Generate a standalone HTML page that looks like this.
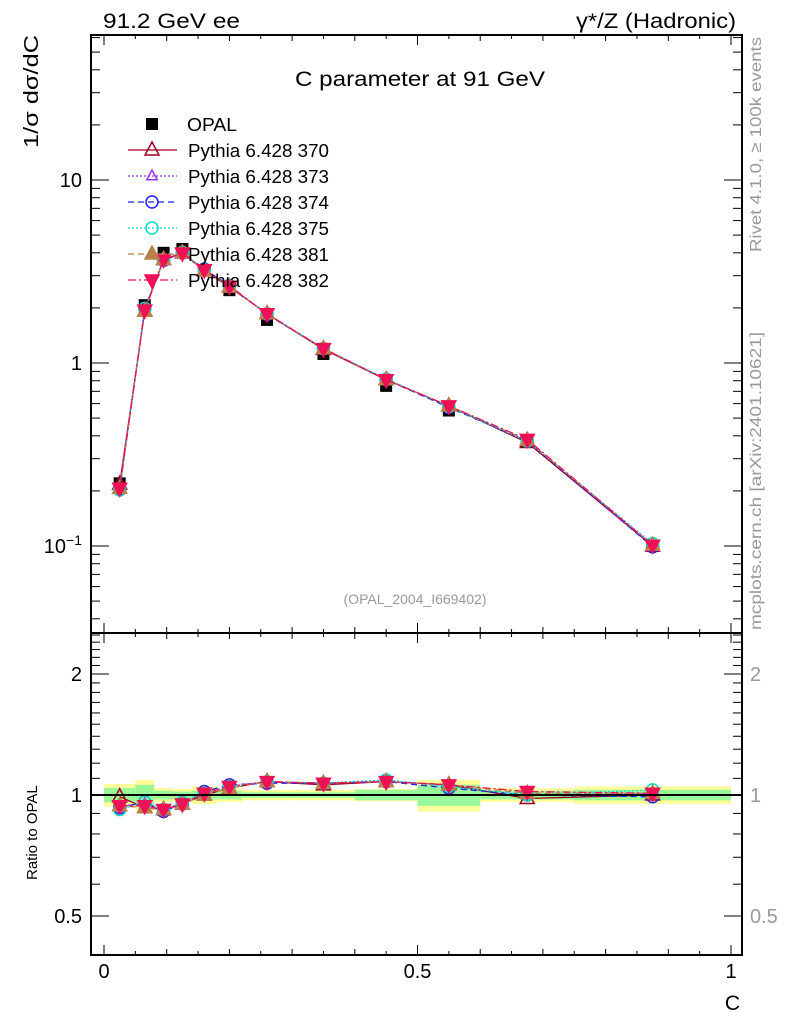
<!DOCTYPE html>
<html><head><meta charset="utf-8">
<style>
body{margin:0;background:#fff;}
svg{display:block;font-family:"Liberation Sans",sans-serif;}
</style></head>
<body>
<svg id="chart" width="786" height="1024" viewBox="0 0 786 1024" xmlns="http://www.w3.org/2000/svg">
<g id="bands"></g>
<g id="marks"></g>
<g id="axes"></g>
<text x="103" y="28" font-size="21" textLength="137" lengthAdjust="spacingAndGlyphs">91.2 GeV ee</text>
<text x="576" y="28" font-size="21" textLength="160" lengthAdjust="spacingAndGlyphs">γ*/Z (Hadronic)</text>
<text x="295" y="86" font-size="21" textLength="250" lengthAdjust="spacingAndGlyphs">C parameter at 91 GeV</text>
<text x="415" y="604" font-size="14" fill="#999" text-anchor="middle">(OPAL_2004_I669402)</text>
<text x="0" y="0" font-size="20" textLength="113" lengthAdjust="spacingAndGlyphs" transform="translate(38,148) rotate(-90)">1/σ   dσ/dC</text>
<text x="0" y="0" font-size="15" transform="translate(37,880) rotate(-90)">Ratio to OPAL</text>
<text x="740" y="1010" font-size="21" text-anchor="end">C</text>
<text x="0" y="0" font-size="16" fill="#999" textLength="215" lengthAdjust="spacingAndGlyphs" transform="translate(761,252) rotate(-90)">Rivet 4.1.0, ≥ 100k events</text>
<text x="0" y="0" font-size="16" fill="#999" textLength="298" lengthAdjust="spacingAndGlyphs" transform="translate(761,630) rotate(-90)">mcplots.cern.ch [arXiv:2401.10621]</text>
<g id="legend"></g>
</svg>
<script>
const edges=[0,0.05,0.08,0.11,0.14,0.18,0.22,0.30,0.40,0.50,0.60,0.75,1.0];
const centers=[0.025,0.065,0.095,0.125,0.16,0.2,0.26,0.35,0.45,0.55,0.675,0.875];
const opal=[0.22,2.07,4.0,4.2,3.2,2.5,1.72,1.12,0.75,0.55,0.375,0.1];
const bandTot=[0.065,0.09,0.04,0.035,0.05,0.04,0.03,0.03,0.035,0.09,0.04,0.05];
const bandStat=[0.04,0.06,0.025,0.02,0.025,0.025,0.015,0.015,0.03,0.06,0.025,0.03];
const r370=[0.99,0.93,0.92,0.95,1.0,1.04,1.08,1.06,1.08,1.06,0.98,1.0];
const r373=[0.94,0.95,0.91,0.95,1.01,1.05,1.08,1.07,1.09,1.05,1.0,1.01];
const r374=[0.93,0.96,0.91,0.95,1.02,1.06,1.07,1.07,1.08,1.04,1.0,0.99];
const r375=[0.92,0.96,0.92,0.96,1.01,1.05,1.08,1.07,1.09,1.05,1.0,1.03];
const r381=[0.94,0.93,0.92,0.95,1.0,1.04,1.08,1.07,1.08,1.06,1.01,1.01];
const r382=[0.94,0.94,0.92,0.95,1.01,1.05,1.08,1.07,1.08,1.06,1.02,1.01];
const seriesNames=["Pythia 6.428 370","Pythia 6.428 373","Pythia 6.428 374","Pythia 6.428 375","Pythia 6.428 381","Pythia 6.428 382"];
const NS="http://www.w3.org/2000/svg";
const X=c=>104+627*c;
const Y=v=>546-183*(Math.log10(v)+1);
const R=v=>795-402*Math.log10(v);
function el(p,t,a){const e=document.createElementNS(NS,t);for(const k in a)e.setAttribute(k,a[k]);p.appendChild(e);return e;}
const bands=document.getElementById('bands'),marks=document.getElementById('marks'),axes=document.getElementById('axes'),leg=document.getElementById('legend');
for(let i=0;i<centers.length;i++){
  let b=el(bands,'rect',{x:X(edges[i]),y:R(1+bandTot[i]),width:X(edges[i+1])-X(edges[i]),height:R(1-bandTot[i])-R(1+bandTot[i]),fill:'#fdfd99'});
  
  
  let g=el(bands,'rect',{x:X(edges[i]),y:R(1+bandStat[i]),width:X(edges[i+1])-X(edges[i]),height:R(1-bandStat[i])-R(1+bandStat[i]),fill:'#99f899'});
  
  
}
let l1=el(axes,'line',{x1:91,x2:742,y1:795,y2:795,stroke:'#000','stroke-width':2});


const styles=[
 {c:'#a00020',d:'',m:'tri',f:'none'},
 {c:'#9933ee',d:'2,2',m:'tri',f:'none',s:0.75},
 {c:'#2222ee',d:'6,4',m:'circ',f:'none'},
 {c:'#00ddcc',d:'2,2',m:'circ',f:'none'},
 {c:'#b8804a',d:'6,4',m:'tri',f:'#b8804a'},
 {c:'#ee1155',d:'8,3,2,3',m:'itri',f:'#ee1155'}];
const ratios=[r370,r373,r374,r375,r381,r382];
function marker(p,m,x,y,st,sz){
  sz=sz||1;let e;
  if(m==='tri')e=el(p,'polygon',{points:`${x},${y-8*sz} ${x-7*sz},${y+5*sz} ${x+7*sz},${y+5*sz}`});
  else if(m==='itri')e=el(p,'polygon',{points:`${x},${y+8*sz} ${x-7*sz},${y-5*sz} ${x+7*sz},${y-5*sz}`});
  else if(m==='circ')e=el(p,'circle',{cx:x,cy:y,r:6*sz});
  else e=el(p,'rect',{x:x-6,y:y-6,width:12,height:12});
  e.setAttribute('fill',st.f);e.setAttribute('stroke',st.c);e.setAttribute('stroke-width',1.5);
  return e;
}
opal.forEach((v,i)=>{let r=el(marks,'rect',{x:X(centers[i])-6,y:Y(v)-6,width:12,height:12,fill:'#000'});
 
 });
ratios.forEach((rs,k)=>{
  const st=styles[k];
  const mp=rs.map((r,i)=>X(centers[i])+','+Y(opal[i]*r)).join(' ');
  let pl=el(marks,'polyline',{points:mp,fill:'none',stroke:st.c,'stroke-width':1.3,'stroke-dasharray':st.d});
  
  
  const rp=rs.map((r,i)=>X(centers[i])+','+R(r)).join(' ');
  let pr=el(marks,'polyline',{points:rp,fill:'none',stroke:st.c,'stroke-width':1.3,'stroke-dasharray':st.d});
  
  
  rs.forEach((r,i)=>{
    let a=marker(marks,st.m,X(centers[i]),Y(opal[i]*r),st,st.s);
    
    
    let b=marker(marks,st.m,X(centers[i]),R(r),st,st.s);
    
    
  });
});
[[91,35,651,598],[91,633,651,322]].forEach(f=>{let r=el(axes,'rect',{x:f[0],y:f[1],width:f[2],height:f[3],fill:'none',stroke:'#000','stroke-width':2});
 
 });
for(let k=0;k<=20;k++){
  const t=k*0.05;const L=(k%10===0)?10:(k%2===0?6:4);const x=X(t);
  el(axes,'line',{x1:x,x2:x,y1:633,y2:633-L,stroke:'#000','stroke-width':1});
  el(axes,'line',{x1:x,x2:x,y1:633,y2:633+L,stroke:'#000','stroke-width':1});
  el(axes,'line',{x1:x,x2:x,y1:35,y2:35+L,stroke:'#000','stroke-width':1});
  el(axes,'line',{x1:x,x2:x,y1:955,y2:955-L,stroke:'#000','stroke-width':1});
}
const xtl=['0','0.5','1'];const xtv=[0,0.5,1];
xtv.forEach((v,i)=>{let t=el(axes,'text',{x:X(v),y:978,'font-size':20,'text-anchor':'middle'});t.textContent=xtl[i];
 
 });
for(let d=-2;d<=1;d++)for(let m=1;m<=9;m++){
  const v=m*Math.pow(10,d);const y=Y(v);if(y<35||y>633)continue;const L=m===1?18:9;
  el(axes,'line',{x1:91,x2:91+L,y1:y,y2:y,stroke:'#000'});el(axes,'line',{x1:742,x2:742-L,y1:y,y2:y,stroke:'#000'});
}
[[10,'10'],[1,'1']].forEach(a=>{let t=el(axes,'text',{x:82,y:Y(a[0])+7,'font-size':20,'text-anchor':'end'});t.textContent=a[1];
 
 });
let tt=el(axes,'text',{x:82,y:Y(0.1)+7,'font-size':20,'text-anchor':'end'});tt.innerHTML='10<tspan dy="-8" font-size="14">−1</tspan>';


for(let v=0.4;v<=2.55;v+=0.1){const y=R(v);if(y<633||y>955)continue;const maj=[0.5,1,2].some(q=>Math.abs(q-v)<1e-6);const L=maj?18:9;
 el(axes,'line',{x1:91,x2:91+L,y1:y,y2:y,stroke:'#000'});el(axes,'line',{x1:742,x2:742-L,y1:y,y2:y,stroke:'#000'});}
[[2,'2'],[1,'1'],[0.5,'0.5']].forEach(a=>{
 let t=el(axes,'text',{x:82,y:R(a[0])+7,'font-size':20,'text-anchor':'end'});t.textContent=a[1];
 
 
 let t2=el(axes,'text',{x:750,y:R(a[0])+7,'font-size':20,'fill':'#999'});t2.textContent=a[1];
 
 });
let sq=el(leg,'rect',{x:146,y:118,width:12,height:12,fill:'#000'});
let ot=el(leg,'text',{x:187,y:131,'font-size':18,textLength:50,lengthAdjust:'spacingAndGlyphs'});ot.textContent='OPAL';


seriesNames.forEach((n,k)=>{const y=150+26*k;const st=styles[k];
 el(leg,'line',{x1:128,x2:177,y1:y,y2:y,stroke:st.c,'stroke-width':1.3,'stroke-dasharray':st.d});
 marker(leg,st.m,152,y,st,st.s);
 let t=el(leg,'text',{x:188,y:y+7,'font-size':18,textLength:141,lengthAdjust:'spacingAndGlyphs'});t.textContent=n;
 
 });
</script>
</body></html>
